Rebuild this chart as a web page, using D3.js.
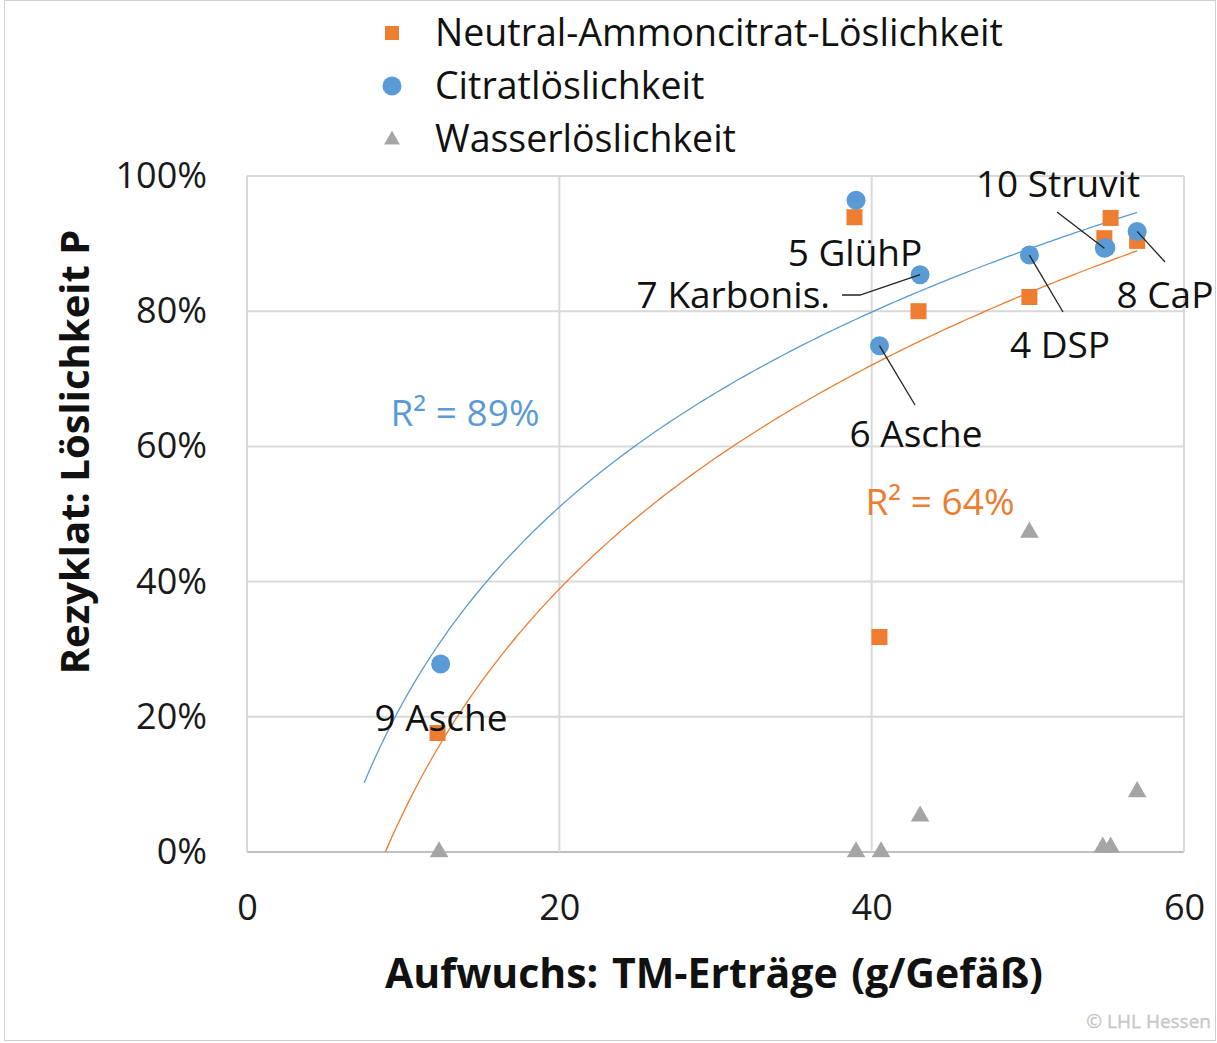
<!DOCTYPE html>
<html><head><meta charset="utf-8">
<script src="https://cdn.jsdelivr.net/npm/d3@7"></script>
<style>body{margin:0;background:#fff}svg text{font-family:"Open Sans",sans-serif}</style>
</head><body><svg id="c" width="1217" height="1043"></svg>
<script>
const sampleIds = ["9 Asche","5 GlühP","6 Asche","7 Karbonis.","4 DSP","X","10 Struvit","8 CaP"];
const xCitrat = [12.4,39.0,40.5,43.1,50.1,55.0,54.9,57.0];
const yCitrat = [27.8,96.4,74.9,85.4,88.3,89.4,89.3,91.8];
const xNAC = [12.2,38.9,40.5,43.0,50.1,55.3,54.9,57.0];
const yNAC = [17.6,93.9,31.8,80.0,82.1,93.8,90.8,90.4];
const xWasser = [12.3,39.0,40.6,43.1,50.1,54.8,55.3,57.0];
const yWasser = [0,0,0,5.3,47.3,0.7,0.7,8.9];
const xTicks = [0,20,40,60];
const yTicks = [0,20,40,60,80,100];
const legendNames = ["Neutral-Ammoncitrat-Löslichkeit","Citratlöslichkeit","Wasserlöslichkeit"];
const trendStart = 7.5;

const C = {orange:"#ED7D31", blue:"#5B9BD5", gray:"#A5A5A5", grid:"#D9D9D9"};
const svg = d3.select("#c");
svg.append("rect").attr("x",4.5).attr("y",0.5).attr("width",1211).attr("height",1040).attr("fill","none").attr("stroke","#d0d0d0");

const x = d3.scaleLinear().domain([0,60]).range([247,1184]);
const y = d3.scaleLinear().domain([0,100]).range([852,176]);

// grid
svg.append("g").selectAll("line").data(yTicks).join("line")
  .attr("x1",x(0)).attr("x2",x(60)).attr("y1",d=>y(d)).attr("y2",d=>y(d))
  .attr("stroke",d=>d===0?"#BFBFBF":C.grid).attr("stroke-width",2);
svg.append("g").selectAll("line").data(xTicks).join("line")
  .attr("y1",y(0)).attr("y2",y(100)).attr("x1",d=>x(d)).attr("x2",d=>x(d))
  .attr("stroke",C.grid).attr("stroke-width",2);

// axes labels via d3 axis
const ax = svg.append("g").attr("transform",`translate(0,${y(0)})`)
  .call(d3.axisBottom(x).tickValues(xTicks).tickSize(0).tickPadding(42));
ax.select(".domain").remove();
ax.selectAll("text").attr("font-size",36).attr("fill","#1a1a1a").attr("font-family","Open Sans");
const ay = svg.append("g").attr("transform",`translate(${x(0)},0)`)
  .call(d3.axisLeft(y).tickValues(yTicks).tickFormat(d=>d+"%").tickSize(0).tickPadding(40));
ay.select(".domain").remove();
ay.selectAll("text").attr("font-size",36).attr("fill","#1a1a1a").attr("font-family","Open Sans");

svg.append("text").attr("x",714).attr("y",988).attr("text-anchor","middle")
  .attr("font-size",41).attr("font-weight","bold").attr("fill","#111").attr("word-spacing",3).text("Aufwuchs: TM-Erträge (g/Gefäß)");
svg.append("text").attr("transform","translate(89,452) rotate(-90)").attr("text-anchor","middle")
  .attr("font-size",40).attr("font-weight","bold").attr("fill","#111").text("Rezyklat: Löslichkeit P");

// log trendlines fitted from data
function logFit(xs, ys){
  const lx = xs.map(Math.log), n=xs.length;
  const mx=d3.mean(lx), my=d3.mean(ys);
  let sxy=0,sxx=0,syy=0;
  for(let i=0;i<n;i++){sxy+=(lx[i]-mx)*(ys[i]-my);sxx+=(lx[i]-mx)**2;syy+=(ys[i]-my)**2;}
  const a=sxy/sxx, b=my-a*mx;
  return {a,b,r2:(a*sxy)/syy};
}
svg.append("clipPath").attr("id","pc").append("rect")
  .attr("x",x(0)).attr("y",y(100)-20).attr("width",x(60)-x(0)).attr("height",y(0)-y(100)+20);
function trend(xs, ys, color){
  const f = logFit(xs, ys);
  const xmax = d3.max(xs);
  const pts = d3.range(trendStart, xmax+0.001, 0.25).map(v=>[v, f.a*Math.log(v)+f.b]);
  svg.append("path").attr("clip-path","url(#pc)").datum(pts)
    .attr("d", d3.line().x(d=>x(d[0])).y(d=>y(d[1])))
    .attr("fill","none").attr("stroke",color).attr("stroke-width",1.3);
  return f;
}
const fB = trend(xCitrat, yCitrat, C.blue);
const fO = trend(xNAC, yNAC, C.orange);

// markers
const tri = d3.symbol().type(d3.symbolTriangle).size(150);
svg.append("g").selectAll("path").data(xWasser.map((v,i)=>[v,yWasser[i]])).join("path")
  .attr("d",tri).attr("transform",d=>`translate(${x(d[0])},${y(d[1])})`).attr("fill",C.gray);
svg.append("g").selectAll("rect").data(xNAC.map((v,i)=>[v,yNAC[i]])).join("rect")
  .attr("x",d=>x(d[0])-8).attr("y",d=>y(d[1])-8).attr("width",16).attr("height",16).attr("fill",C.orange);
svg.append("g").selectAll("circle").data(xCitrat.map((v,i)=>[v,yCitrat[i]])).join("circle")
  .attr("cx",d=>x(d[0])).attr("cy",d=>y(d[1])).attr("r",9.5).attr("fill",C.blue);

// R² labels
svg.append("text").attr("x",465).attr("y",426).attr("text-anchor","middle").attr("font-size",37)
  .attr("fill",C.blue).text(`R² = ${Math.round(fB.r2*100)}%`);
svg.append("text").attr("x",940).attr("y",515).attr("text-anchor","middle").attr("font-size",37)
  .attr("fill",C.orange).text(`R² = ${Math.round(fO.r2*100)}%`);

// data labels
const lab = svg.append("g").attr("font-size",37).attr("fill","#111");
function label(t, px, py, anchor){lab.append("text").attr("x",px).attr("y",py).attr("text-anchor",anchor||"middle").text(t);}
function leader(pts){svg.append("path").attr("d",d3.line()(pts)).attr("fill","none").attr("stroke","#222").attr("stroke-width",1.3);}
const ci = i=>[x(xCitrat[i]),y(yCitrat[i])];
label(sampleIds[6], 1058, 197); leader([[1057,212], ci(6)]);
label(sampleIds[7], 1165, 308); leader([[1165,262], ci(7)]);
label(sampleIds[4], 1060, 358); leader([[1063,312], ci(4)]);
label(sampleIds[1], 855, 266);
label(sampleIds[3], 830, 308, "end"); leader([[842,295],[860,295], ci(3)]);
label(sampleIds[2], 916, 447); leader([[915,405], ci(2)]);
label(sampleIds[0], 441, 731);

// legend
const lg = svg.append("g");
lg.append("rect").attr("x",385).attr("y",26).attr("width",14).attr("height",14).attr("fill",C.orange);
lg.append("circle").attr("cx",392).attr("cy",86).attr("r",9.5).attr("fill",C.blue);
lg.append("path").attr("d",d3.symbol().type(d3.symbolTriangle).size(110)).attr("transform","translate(392,140)").attr("fill",C.gray);
legendNames.forEach((n,i)=>lg.append("text").attr("x",435).attr("y",46+i*53).attr("font-size",37.5).attr("fill","#111").text(n));

// copyright
svg.append("text").attr("x",1211).attr("y",1028).attr("text-anchor","end").attr("font-size",19)
  .attr("fill","#ccc").attr("stroke","#bbb").attr("stroke-width",0.3).text("© LHL Hessen");
</script></body></html>
